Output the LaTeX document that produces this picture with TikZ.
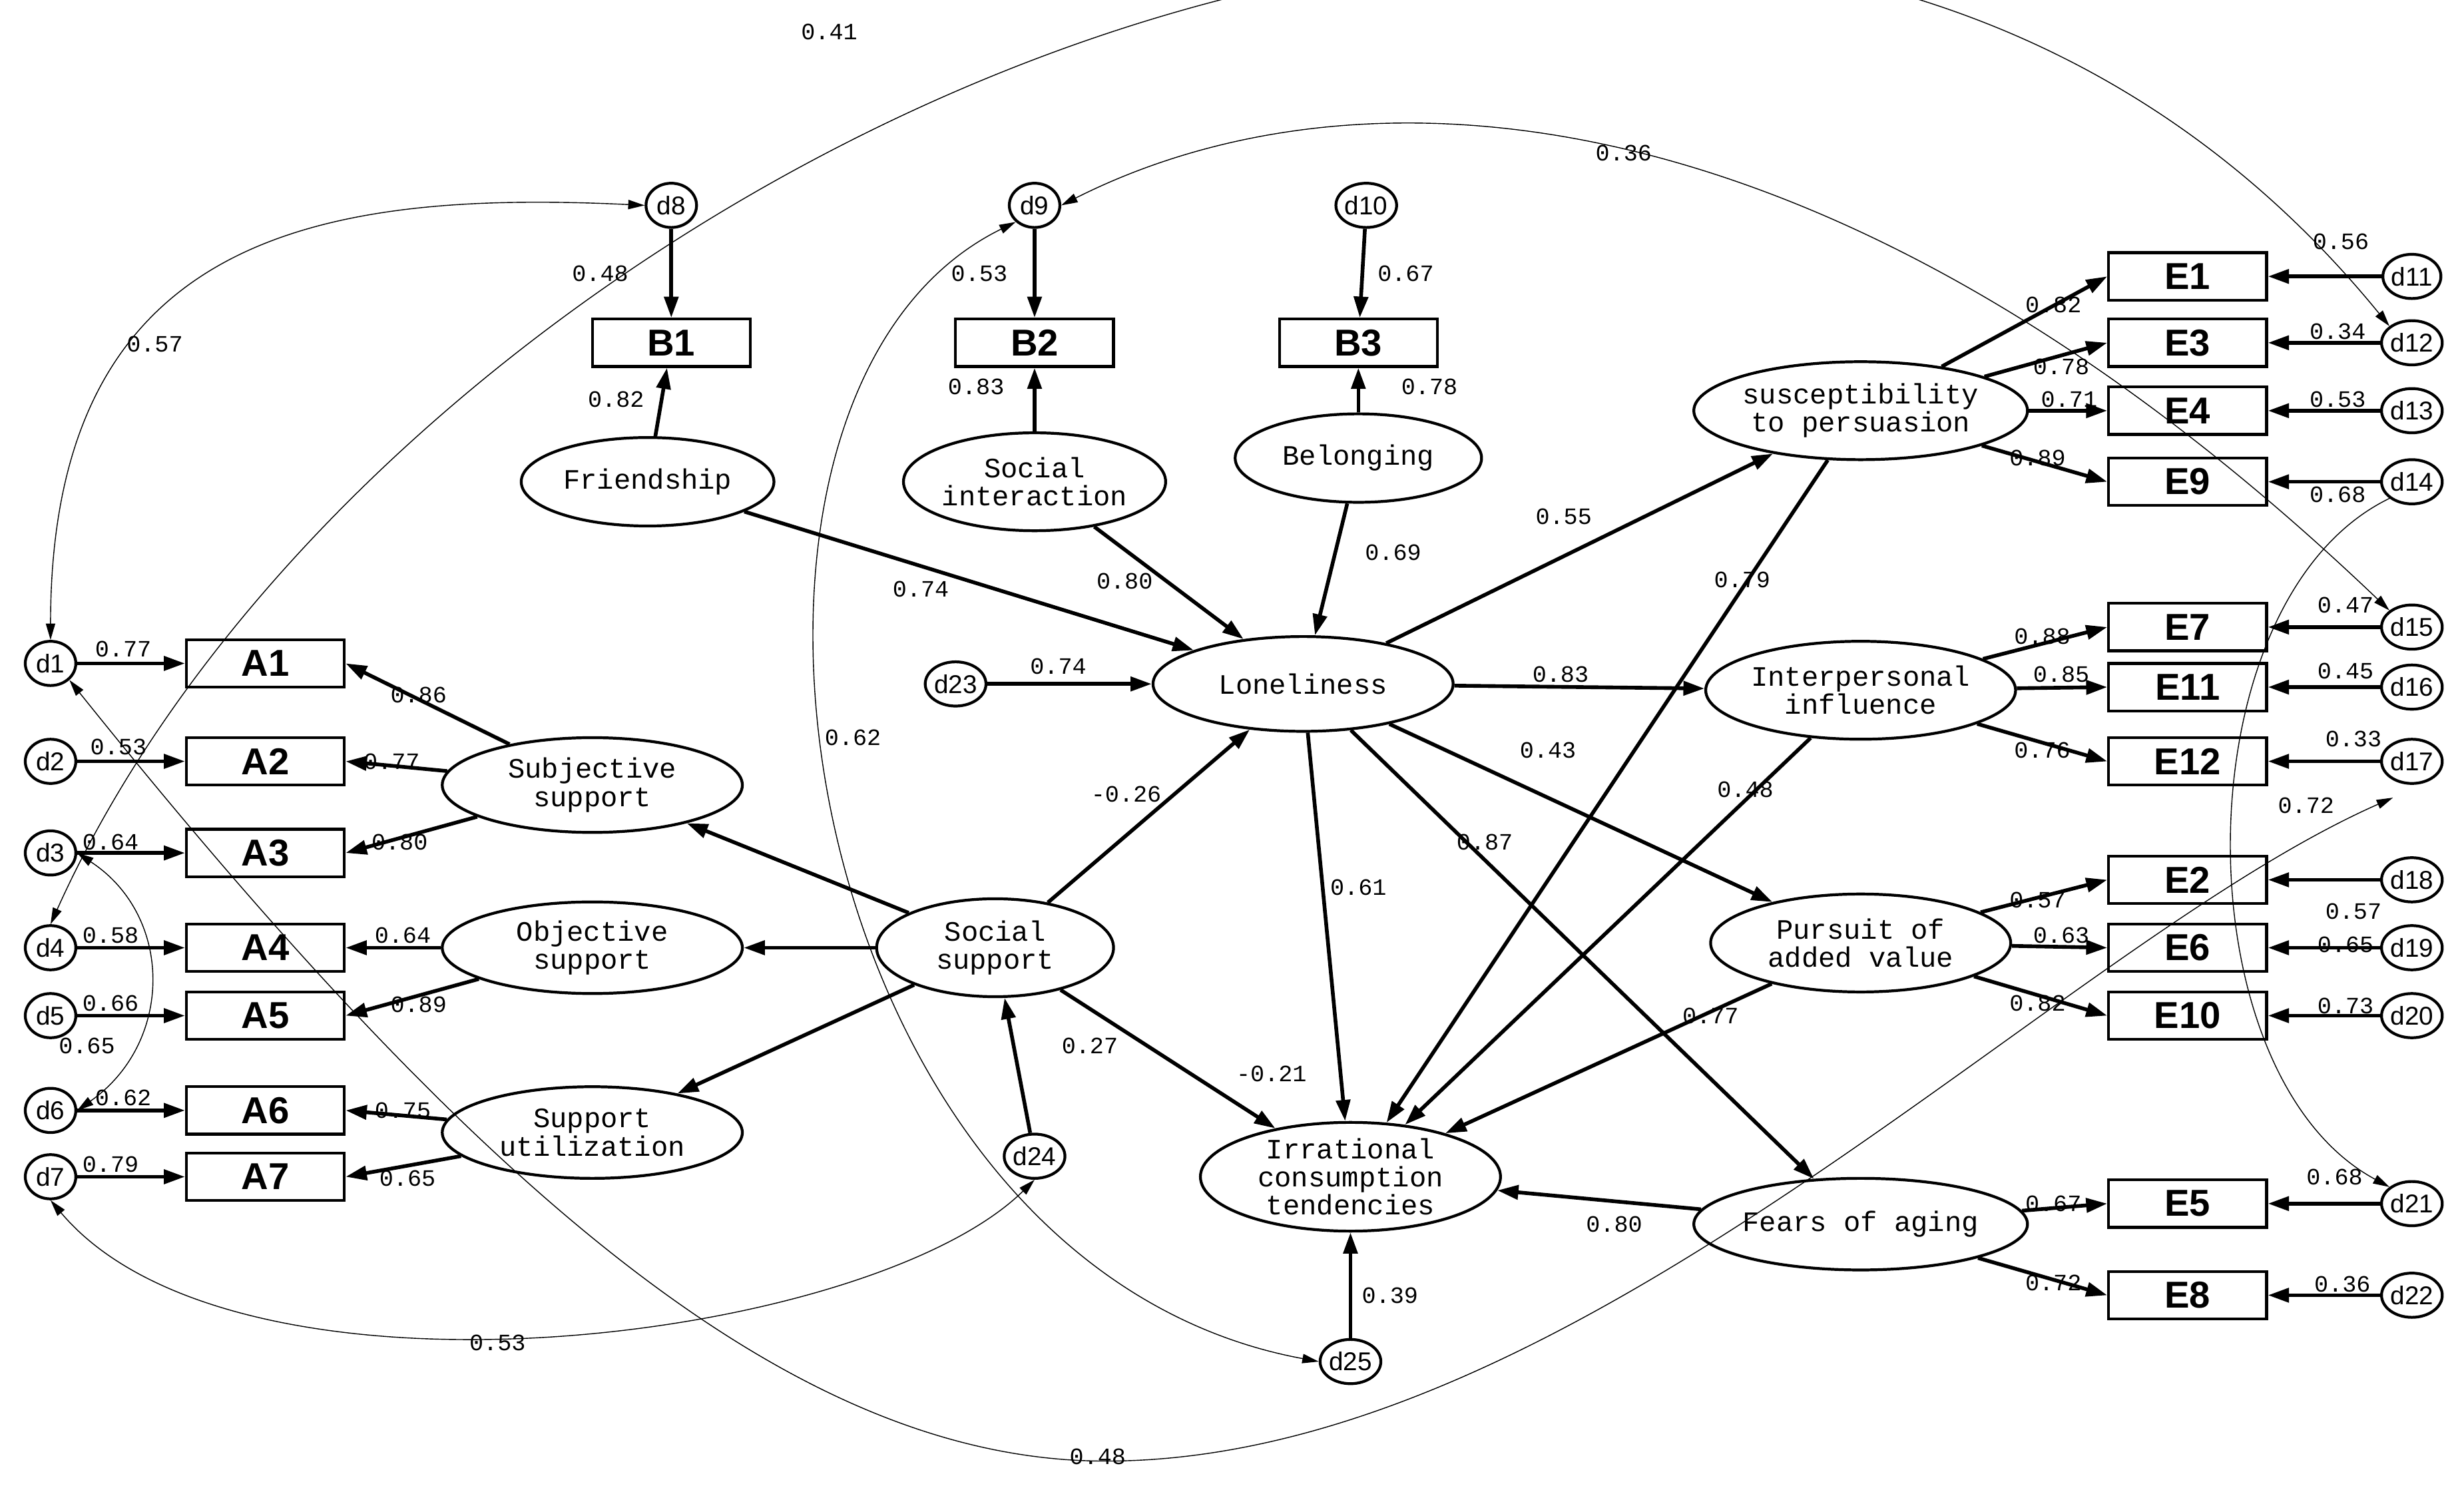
\documentclass[tikz,border=0pt]{standalone}
\usepackage{fontspec}
\setmainfont{Liberation Sans}
\newfontfamily\monofont{Liberation Mono}
\usetikzlibrary{arrows.meta,shapes.geometric}

\begin{document}
\begin{tikzpicture}[
        x=0.2372mm, y=-0.2372mm,
        lat/.style={ellipse, draw, very thick, minimum width=190\pgflinewidth, inner sep=0pt,
            font=\monofont\fontsize{12}{12}\selectfont, align=center},
        obs/.style={rectangle, draw, very thick, minimum width=100*0.2372mm,
            minimum height=30*0.2372mm, font=\bfseries\fontsize{16}{16}\selectfont},
        err/.style={ellipse, draw, very thick, minimum width=32*0.2372mm,
            minimum height=28*0.2372mm, inner sep=0pt, font=\fontsize{11}{11}\selectfont},
        path/.style={line width=1.6pt, -{Triangle[length=9pt,width=6pt]}},
        cov/.style={thin, {Triangle[length=7pt,width=4pt]}-{Triangle[length=7pt,width=4pt]}},
        coef/.style={font=\monofont\fontsize{10}{10}\selectfont, inner sep=0pt},
    ]
    \useasboundingbox (0,0) rectangle (1560,948);

    % error terms, left
    \foreach \i/\y in {1/420,2/482,3/540,4/600,5/643,6/703,7/745} {
        \node[err] (d\i) at (32,\y) {d\i};
        \node[obs] (A\i) at (168,\y) {A\i};
        \draw[path] (d\i) -- (A\i);
    }

    % latent factors
    \node[lat, minimum width=190*0.2372mm, minimum height=60*0.2372mm] (subj) at (375,497) {Subjective\\support};
    \node[lat, minimum width=190*0.2372mm, minimum height=58*0.2372mm] (obj) at (375,600) {Objective\\support};
    \node[lat, minimum width=190*0.2372mm, minimum height=58*0.2372mm] (util) at (375,717) {Support\\utilization};
    \node[lat, minimum width=150*0.2372mm, minimum height=62*0.2372mm] (socsup) at (630,600) {Social\\support};
    \node[lat, minimum width=160*0.2372mm, minimum height=56*0.2372mm] (friend) at (410,305) {Friendship};
    \node[lat, minimum width=160*0.2372mm, minimum height=62*0.2372mm] (socint) at (655,305) {Social\\interaction};
    \node[lat, minimum width=156*0.2372mm, minimum height=56*0.2372mm] (belong) at (860,290) {Belonging};
    \node[lat, minimum width=190*0.2372mm, minimum height=60*0.2372mm] (lonely) at (825,433) {Loneliness};
    \node[lat, minimum width=190*0.2372mm, minimum height=64*0.2372mm] (irr) at (855,745) {Irrational\\consumption\\tendencies};
    \node[lat, minimum width=190*0.2372mm, minimum height=62*0.2372mm] (susc) at (1178,260) {susceptibility\\to persuasion};
    \node[lat, minimum width=190*0.2372mm, minimum height=62*0.2372mm] (inter) at (1178,437) {Interpersonal\\influence};
    \node[lat, minimum width=190*0.2372mm, minimum height=62*0.2372mm] (pursuit) at (1178,597) {Pursuit of\\added value};
    \node[lat, minimum width=190*0.2372mm, minimum height=58*0.2372mm] (fears) at (1178,775) {Fears of aging};

    % indicators B
    \node[obs] (B1) at (425,217) {B1};
    \node[obs] (B2) at (655,217) {B2};
    \node[obs] (B3) at (860,217) {B3};
    \node[err] (d8) at (425,130) {d8};
    \node[err] (d9) at (655,130) {d9};
    \node[err] (d10) at (865,130) {d10};
    \node[err] (d23) at (605,433) {d23};
    \node[err] (d24) at (655,732) {d24};
    \node[err] (d25) at (855,862) {d25};

    % indicators E
    \foreach \e/\d/\y in {E1/11/175,E3/12/217,E4/13/260,E9/14/305,E7/15/397,E11/16/435,
                          E12/17/482,E2/18/557,E6/19/600,E10/20/643,E5/21/762,E8/22/820} {
        \node[obs] (\e) at (1385,\y) {\e};
        \node[err] (d\d) at (1527,\y) {d\d};
        \draw[path] (d\d) -- (\e);
    }

    % measurement paths
    \foreach \a in {A1,A2,A3} \draw[path] (subj) -- (\a.east);
    \foreach \a in {A4,A5} \draw[path] (obj) -- (\a.east);
    \foreach \a in {A6,A7} \draw[path] (util) -- (\a.east);
    \draw[path] (friend) -- (B1);
    \draw[path] (socint) -- (B2);
    \draw[path] (belong) -- (B3);
    \draw[path] (d8) -- (B1);
    \draw[path] (d9) -- (B2);
    \draw[path] (d10) -- (B3);
    \foreach \e in {E1,E3,E4,E9} \draw[path] (susc) -- (\e.west);
    \foreach \e in {E7,E11,E12} \draw[path] (inter) -- (\e.west);
    \foreach \e in {E2,E6,E10} \draw[path] (pursuit) -- (\e.west);
    \foreach \e in {E5,E8} \draw[path] (fears) -- (\e.west);

    % structural paths
    \draw[path] (socsup) -- (subj);
    \draw[path] (socsup) -- (obj);
    \draw[path] (socsup) -- (util);
    \draw[path] (socsup) -- (lonely);
    \draw[path] (socsup) -- (irr);
    \draw[path] (friend) -- (lonely);
    \draw[path] (socint) -- (lonely);
    \draw[path] (belong) -- (lonely);
    \draw[path] (d23) -- (lonely);
    \draw[path] (d24) -- (socsup);
    \draw[path] (d25) -- (irr);
    \draw[path] (lonely) -- (irr);
    \draw[path] (lonely) -- (susc);
    \draw[path] (lonely) -- (inter);
    \draw[path] (lonely) -- (pursuit);
    \draw[path] (lonely) -- (fears);
    \draw[path] (susc) -- (irr);
    \draw[path] (inter) -- (irr);
    \draw[path] (pursuit) -- (irr);
    \draw[path] (fears) -- (irr);

    % covariances
    \coordinate (free) at (1515,505);
    \draw[cov] (d4.north) .. controls (250,100) and (1100,-300) .. (d12.north west);
    \draw[cov] (d9.east) .. controls (850,40) and (1150,40) .. (d15.north west);
    \draw[cov] (d1.north) .. controls (32,150) and (200,120) .. (d8.west);
    \draw[cov] (d9.south west) .. controls (420,250) and (500,800) .. (d25.west);
    \draw[cov] (d3.east) .. controls (110,580) and (110,660) .. (d6.east);
    \draw[cov] (d7.south) .. controls (150,900) and (550,850) .. (d24.south);
    \draw[cov] (d1.south east) .. controls (300,750) and (500,925) .. (700,925)
        .. controls (1000,925) and (1300,600) .. (free);
    \draw[thin, -{Triangle[length=7pt,width=4pt]}] (d14.south west)
        .. controls (1380,380) and (1380,680) .. (d21.north west);

    % coefficients
    \foreach \x/\y/\t in {78/411/0.77,75/473/0.53,70/533/0.64,70/592/0.58,70/635/0.66,
        78/695/0.62,70/737/0.79,55/662/0.65,
        265/440/0.86,248/482/0.77,253/533/0.80,255/592/0.64,265/636/0.89,255/703/0.75,258/746/0.65,
        380/173/0.48,390/253/0.82,620/173/0.53,618/245/0.83,890/173/0.67,905/245/0.78,
        583/373/0.74,712/368/0.80,882/350/0.69,670/422/0.74,713/503/-0.26,805/680/-0.21,
        860/562/0.61,690/662/0.27,880/820/0.39,
        990/327/0.55,988/427/0.83,980/475/0.43,940/533/0.87,
        1103/367/0.79,1105/500/0.48,1083/643/0.77,1022/775/0.80,
        1300/193/0.82,1305/232/0.78,1310/253/0.71,1290/290/0.89,
        1293/403/0.88,1305/427/0.85,1293/475/0.76,
        1290/570/0.57,1305/592/0.63,1290/635/0.82,1300/762/0.67,1300/812/0.72,
        1482/153/0.56,1480/210/0.34,1480/253/0.53,1480/313/0.68,1485/383/0.47,1485/425/0.45,
        1490/468/0.33,1490/577/0.57,1485/598/0.65,1485/637/0.73,1478/745/0.68,1483/813/0.36,
        525/20/0.41,1028/97/0.36,98/218/0.57,540/467/0.62,315/850/0.53,695/922/0.48,1460/510/0.72}
        \node[coef] at (\x,\y) {\t};
\end{tikzpicture}
\end{document}
